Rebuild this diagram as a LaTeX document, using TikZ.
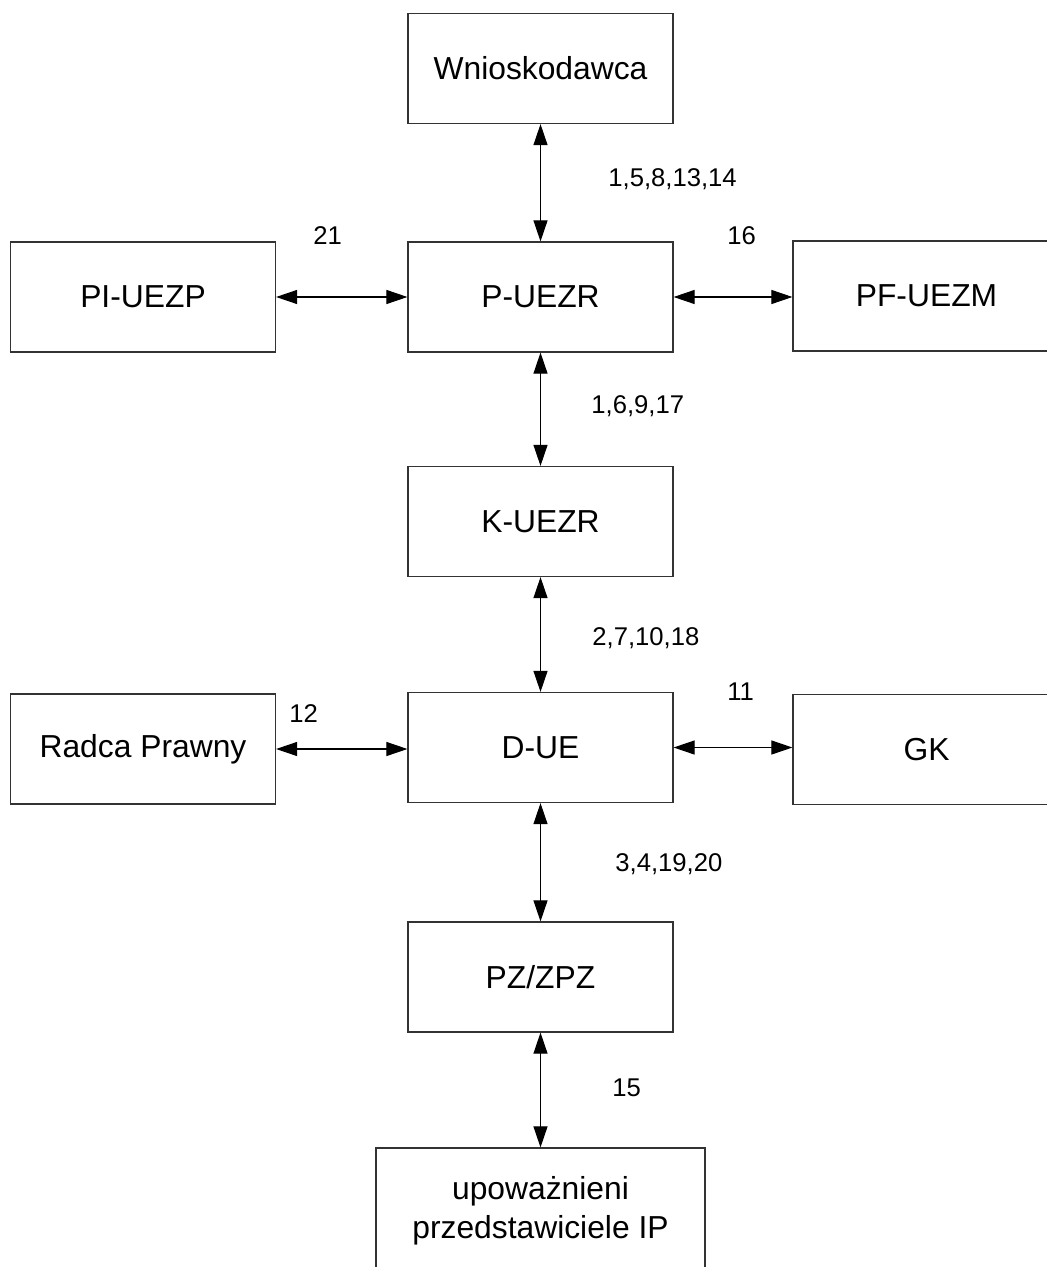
\documentclass[tikz,border=0pt]{standalone}
\usepackage{fontspec}
\setmainfont{Liberation Sans}
\usetikzlibrary{arrows.meta}
\tikzset{
  unit-box/.style={
    draw=black!80,
    line width=0.7pt,
    rectangle,
    minimum width=5.3cm,
    minimum height=2.2cm,
    inner sep=0pt,
    align=center,
    font=\fontsize{18.1}{22}\selectfont
  },
  num-label/.style={
    anchor=west,
    inner sep=0pt,
    font=\fontsize{14.6}{17}\selectfont
  },
  link/.style={
    draw=black,
    line width=0.6pt,
    {Triangle[length=12pt,width=8pt]}-{Triangle[length=12pt,width=8pt]}
  }
}

\begin{document}
\begin{tikzpicture}[x=0.02cm,y=-0.02cm]
  \useasboundingbox (0,0) rectangle (1047,1267);
  \clip (0,0) rectangle (1047,1267);
  % Units
  \node[unit-box] (wnio) at (540.5,68.5) {Wnioskodawca};
  \node[unit-box] (puezr) at (540.5,297) {P-UEZR};
  \node[unit-box] (piuezp) at (143,297) {PI-UEZP};
  \node[unit-box, minimum width=5.34cm] (pfuezm) at (926.5,296) {PF-UEZM};
  \node[unit-box] (kuezr) at (540.5,521.5) {K-UEZR};
  \node[unit-box] (due) at (540.5,747.5) {D-UE};
  \node[unit-box] (radca) at (143,749) {Radca Prawny};
  \node[unit-box, minimum width=5.34cm] (gk) at (926.5,749.5) {GK};
  \node[unit-box] (pzzpz) at (540.5,977) {PZ/ZPZ};
  \node[unit-box, minimum width=6.58cm, minimum height=2.52cm] (upow) at (540.5,1211)
    {upoważnieni\\przedstawiciele IP};
  % Links
  \draw[link] (wnio.south) -- (puezr.north);
  \draw[link] (piuezp.east) -- (puezr.west);
  \draw[link] (puezr.east) -- (puezr.east -| pfuezm.west);
  \draw[link] (puezr.south) -- (kuezr.north);
  \draw[link] (kuezr.south) -- (due.north);
  \draw[link] (radca.east) -- (radca.east -| due.west);
  \draw[link] (due.east) -- (due.east -| gk.west);
  \draw[link] (due.south) -- (pzzpz.north);
  \draw[link] (pzzpz.south) -- (upow.north);
  % Numbers of steps
  \node[num-label] (n-wnio) at (608,179) {1,5,8,13,14};
  \node[num-label] (n-piuezp) at (313,236) {21};
  \node[num-label] (n-pfuezm) at (727,236) {16};
  \node[num-label] (n-kuezr) at (591,406) {1,6,9,17};
  \node[num-label] (n-due) at (592,638) {2,7,10,18};
  \node[num-label] (n-radca) at (289,714) {12};
  \node[num-label] (n-gk) at (727,692) {11};
  \node[num-label] (n-pzzpz) at (615,864) {3,4,19,20};
  \node[num-label] (n-upow) at (612,1088) {15};
\end{tikzpicture}
\end{document}
